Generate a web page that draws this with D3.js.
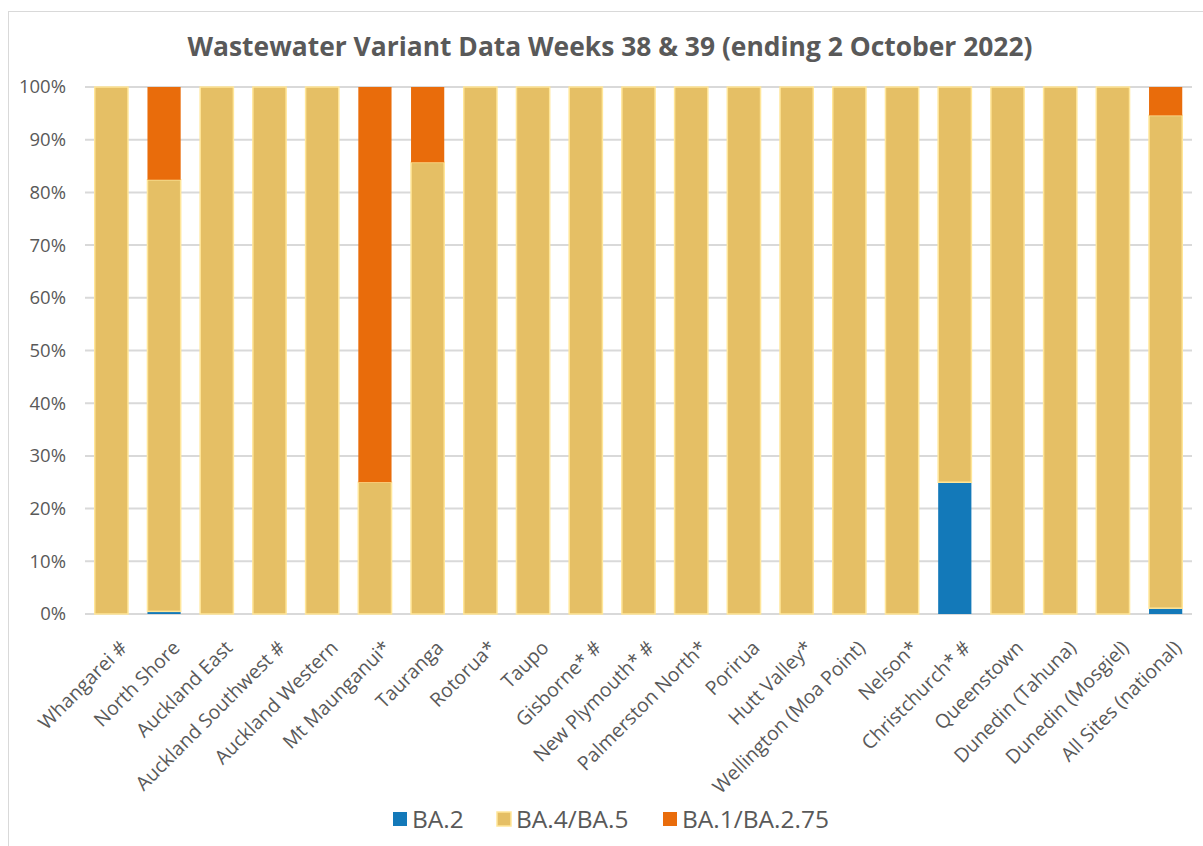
<!DOCTYPE html>
<html>
<head>
<meta charset="utf-8">
<script src="https://cdn.jsdelivr.net/npm/d3@7"></script>
<style>
  body { margin: 0; background: #fff; }
  text { font-family: "Open Sans", "DejaVu Sans", sans-serif; fill: #595959; }
</style>
</head>
<body>
<svg id="chart" width="1203" height="846"></svg>
<script>
// Sites along the x axis
const sites = ["Whangarei #", "North Shore", "Auckland East", "Auckland Southwest #",
  "Auckland Western", "Mt Maunganui*", "Tauranga", "Rotorua*", "Taupo", "Gisborne* #",
  "New Plymouth* #", "Palmerston North*", "Porirua", "Hutt Valley*", "Wellington (Moa Point)",
  "Nelson*", "Christchurch* #", "Queenstown", "Dunedin (Tahuna)", "Dunedin (Mosgiel)",
  "All Sites (national)"];

// Percentages per variant, same order as sites
const ba2 =    [0, 0.5, 0, 0, 0, 0, 0, 0, 0, 0, 0, 0, 0, 0, 0, 0, 25, 0, 0, 0, 1.1];
const ba45 =   [100, 81.9, 100, 100, 100, 25, 85.7, 100, 100, 100, 100, 100, 100, 100, 100, 100, 75, 100, 100, 100, 93.5];
const ba1275 = [0, 17.6, 0, 0, 0, 75, 14.3, 0, 0, 0, 0, 0, 0, 0, 0, 0, 0, 0, 0, 0, 5.4];

const seriesNames = ["BA.2", "BA.4/BA.5", "BA.1/BA.2.75"];
const seriesColors = ["#1379b9", "#e5bf65", "#e96c0b"];
const yTicks = [0, 10, 20, 30, 40, 50, 60, 70, 80, 90, 100];

const rows = sites.map((s, i) => ({ site: s, "BA.2": ba2[i], "BA.4/BA.5": ba45[i], "BA.1/BA.2.75": ba1275[i] }));

const margin = { left: 85, right: 11, top: 87, bottom: 232 };
const width = 1203, height = 846;

const svg = d3.select("#chart");

// outer chart border
svg.append("rect")
  .attr("x", 8.5).attr("y", 11.5)
  .attr("width", 1220).attr("height", 860)
  .attr("fill", "none").attr("stroke", "#d9d9d9").attr("stroke-width", 1);

// Title
svg.append("text")
  .attr("x", 610).attr("y", 56)
  .attr("text-anchor", "middle")
  .attr("textLength", 845)
  .attr("lengthAdjust", "spacingAndGlyphs")
  .style("font-size", "27px")
  .style("font-weight", "bold")
  .text("Wastewater Variant Data Weeks 38 & 39 (ending 2 October 2022)");

const x = d3.scaleBand()
  .domain(sites)
  .range([margin.left, width - margin.right])
  .paddingInner(0.37)
  .paddingOuter(0.185);

const y = d3.scaleLinear()
  .domain([0, 100])
  .range([height - margin.bottom, margin.top]);

const color = d3.scaleOrdinal().domain(seriesNames).range(seriesColors);

// gridlines
svg.append("g")
  .selectAll("line")
  .data(yTicks)
  .join("line")
  .attr("x1", margin.left).attr("x2", width - margin.right)
  .attr("y1", d => y(d)).attr("y2", d => y(d))
  .attr("stroke", "#d9d9d9").attr("stroke-width", 2);

// y axis labels
const yAxis = svg.append("g")
  .attr("transform", `translate(${margin.left},0)`)
  .call(d3.axisLeft(y).tickValues(yTicks).tickFormat(d => d + "%").tickSize(0).tickPadding(19));
yAxis.select(".domain").remove();
yAxis.selectAll("text").style("font-size", "18.5px").attr("fill", "#595959");

// stacked bars
const layers = d3.stack().keys(seriesNames)(rows);

svg.append("g")
  .selectAll("g")
  .data(layers)
  .join("g")
  .attr("fill", d => color(d.key))
  .attr("stroke", d => d.key === "BA.4/BA.5" ? "#ffe699" : "none")
  .attr("stroke-width", 1.5)
  .selectAll("rect")
  .data(d => d.filter(p => p[1] - p[0] > 0))
  .join("rect")
  .attr("x", d => x(d.data.site))
  .attr("y", d => y(d[1]))
  .attr("width", x.bandwidth())
  .attr("height", d => y(d[0]) - y(d[1]));

// x axis labels
const xAxis = svg.append("g")
  .attr("transform", `translate(0,${height - margin.bottom})`)
  .call(d3.axisBottom(x).tickSize(0).tickPadding(0));
xAxis.select(".domain").remove();
xAxis.selectAll("text")
  .style("font-size", "19.5px")
  .attr("fill", "#595959")
  .attr("text-anchor", "end")
  .attr("dy", "0")
  .attr("transform", "translate(17,35) rotate(-45)");

// legend
const legendX = [393, 497, 663];
const legend = svg.append("g")
  .selectAll("g")
  .data(seriesNames)
  .join("g")
  .attr("transform", (d, i) => `translate(${legendX[i]},812)`);

legend.append("rect")
  .attr("width", 14).attr("height", 14)
  .attr("fill", d => color(d))
  .attr("stroke", d => d === "BA.4/BA.5" ? "#ffe699" : "none")
  .attr("stroke-width", 1.5);

legend.append("text")
  .attr("x", 19).attr("y", 16)
  .style("font-size", "24.5px")
  .text(d => d);
</script>
</body>
</html>
